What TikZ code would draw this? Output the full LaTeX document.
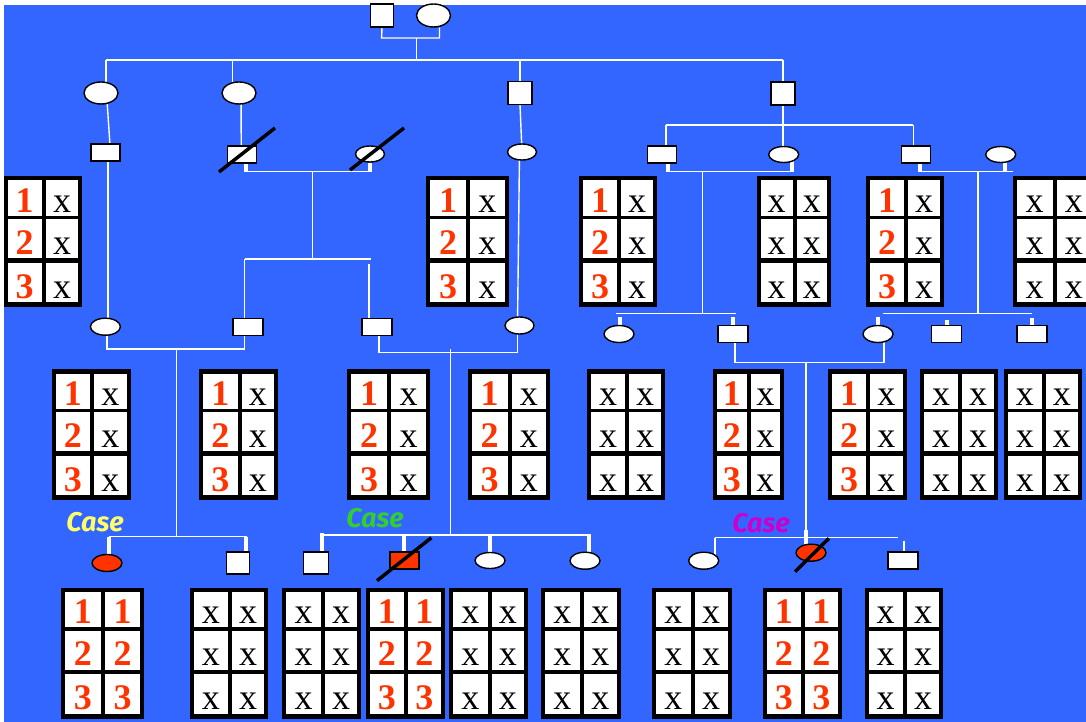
\documentclass[tikz,border=0pt]{standalone}
\usepackage{fontspec}
\setmainfont{Liberation Serif}
\newfontfamily\casefont{Fira Sans}
\usetikzlibrary{shapes.geometric,calc}
\definecolor{bgblue}{HTML}{3366FF}
\definecolor{numred}{HTML}{FF3300}
\definecolor{caseyel}{HTML}{FFFF66}
\definecolor{casegrn}{HTML}{33CC33}
\definecolor{casemag}{HTML}{CC00CC}
\pgfdeclarelayer{back}\pgfdeclarelayer{mid}\pgfsetlayers{back,mid,main}
\newcommand\ct[2]{\if n#1{\color{numred}\bfseries #2}\else x\fi}
\newcommand\gbox[6]{%
 \pgfmathsetmacro\gxl{#2}\pgfmathsetmacro\gxr{#3}\pgfmathsetmacro\gyt{#4}%
 \pgfmathsetmacro\gxm{(\gxl+\gxr)/2+1}%
 \pgfmathsetmacro\gxa{(\gxl+\gxm+2)/2}%
 \pgfmathsetmacro\gxc{(\gxm+\gxr-2)/2}%
 \fill[black] (\gxl,\gyt) rectangle (\gxr,\gyt+131);
 \foreach \ra/\rb in {4.5/39.5, 43/82, 86.5/126}{%
   \fill[white] (\gxl+4,\gyt+\ra) rectangle (\gxm-2,\gyt+\rb);
   \fill[white] (\gxm+2,\gyt+\ra) rectangle (\gxr-4,\gyt+\rb);}
 \node[gtx] (#1-l1) at (\gxa,\gyt+36) {\ct{#5}{1}};
 \node[gtx] (#1-l2) at (\gxa,\gyt+78) {\ct{#5}{2}};
 \node[gtx] (#1-l3) at (\gxa,\gyt+122) {\ct{#5}{3}};
 \node[gtx] (#1-r1) at (\gxc,\gyt+36) {\ct{#6}{1}};
 \node[gtx] (#1-r2) at (\gxc,\gyt+78) {\ct{#6}{2}};
 \node[gtx] (#1-r3) at (\gxc,\gyt+122) {\ct{#6}{3}};
}
\begin{document}
\begin{tikzpicture}[x=1pt,y=-1pt,
 sym/.style={draw=black, fill=white, line width=1.4pt, inner sep=0pt},
 sq/.style={sym, rectangle, minimum width=23pt, minimum height=23pt},
 rc/.style={sym, rectangle, minimum width=29pt, minimum height=17pt},
 el/.style={sym, ellipse, minimum width=30pt, minimum height=17pt},
 bel/.style={sym, ellipse, minimum width=34pt, minimum height=22pt},
 aff/.style={fill=numred},
 ln/.style={draw=white, line width=1.4pt},
 stub/.style={draw=white, line width=4pt},
 slash/.style={draw=black, line width=3.5pt},
 gtx/.style={anchor=base, inner sep=0pt, font=\fontsize{36}{36}\selectfont},
 casel/.style={font=\casefont\bfseries\itshape\fontsize{27}{27}\selectfont, inner sep=0pt}
]
\useasboundingbox (0,0) rectangle (1086,722);
\begin{pgfonlayer}{back}
 \fill[white] (0,0) rectangle (1086,722);
 \fill[bgblue] (3.5,5) rectangle (1086,722);
\end{pgfonlayer}

% ---------- grids ----------
\gbox{G1}{3.5}{82.4}{176}{n}{x}
\gbox{G2}{426}{508.6}{176}{n}{x}
\gbox{G3}{579}{657.3}{176}{n}{x}
\gbox{G4}{756.6}{831}{176}{x}{x}
\gbox{G5}{866}{944}{176}{n}{x}
\gbox{G6}{1012.5}{1095}{176}{x}{x}
\gbox{H1}{51.6}{130.5}{369}{n}{x}
\gbox{H2}{199}{278}{369}{n}{x}
\gbox{H3}{347}{429.7}{369}{n}{x}
\gbox{H4}{467.6}{550}{369}{n}{x}
\gbox{H5}{587}{665.3}{369}{x}{x}
\gbox{H6}{712.7}{783.7}{369}{n}{x}
\gbox{H7}{828}{906.6}{369}{n}{x}
\gbox{H8}{920}{998}{369}{x}{x}
\gbox{H9}{1003.8}{1081.8}{369}{x}{x}
\gbox{K1}{60.7}{143.8}{587.7}{n}{n}
\gbox{K2}{189.8}{268.3}{587.7}{x}{x}
\gbox{K3}{282.4}{361.3}{587.7}{x}{x}
\gbox{K4}{365.5}{444.8}{587.7}{n}{n}
\gbox{K5}{449}{528}{587.7}{x}{x}
\gbox{K6}{541}{620.8}{587.7}{x}{x}
\gbox{K7}{652}{731.5}{587.7}{x}{x}
\gbox{K8}{762.8}{841.5}{587.7}{n}{n}
\gbox{K9}{864.5}{943.2}{587.7}{x}{x}

% ---------- pedigree symbols ----------
\node[sq] (g0m) at (382,15.5) {};
\node[bel, minimum height=23pt] (g0f) at (433.5,15.5) {};
\node[bel] (c1) at (101,93) {};
\node[bel] (c2) at (239,93) {};
\node[sq, minimum width=24pt] (c3) at (520,93) {};
\node[sq, minimum width=24pt] (c4) at (783,93.5) {};
\node[rc] (s1) at (105.5,152.5) {};
\node[rc] (x2) at (242,154.5) {};
\node[el, minimum width=29pt, minimum height=16pt] (x3) at (370,154) {};
\node[el, minimum width=29pt, minimum height=16pt] (e2r) at (522,152) {};
\node[rc] (rA) at (662,154.5) {};
\node[el, minimum height=16pt] (eB) at (783.7,154.5) {};
\node[rc] (rC) at (915.7,154.5) {};
\node[el, minimum height=16pt] (eD) at (1000.7,154.5) {};
\node[el] (e31) at (105.4,326.7) {};
\node[rc, minimum width=30pt] (r32) at (248,326.7) {};
\node[rc, minimum width=30pt] (r33) at (377,326.7) {};
\node[el, minimum width=29pt] (e34) at (519.5,325.5) {};
\node[el] (e3a) at (619,334) {};
\node[rc, minimum width=30pt] (r3b) at (733,334) {};
\node[el] (e3c) at (878,334) {};
\node[rc, minimum width=30pt] (r3d) at (946.5,334) {};
\node[rc, minimum width=30pt] (r3e) at (1032,334) {};
\node[el, aff] (f1) at (107,563) {};
\node[sq, minimum height=22pt] (f2) at (237.7,563) {};
\node[sq, minimum width=25pt, minimum height=22pt] (f3) at (316,563) {};
\node[rc, aff] (f4) at (404.4,560.3) {};
\node[el, minimum height=16pt] (f5) at (490,560.5) {};
\node[el] (f6) at (585,560.7) {};
\node[el] (f7) at (703.7,560.7) {};
\node[el, aff] (f8) at (811,552.7) {};
\node[rc, minimum width=30pt] (f9) at (903,560.3) {};

% deceased slashes
\draw[slash] ($(x2)+(-23,17.5)$) -- ($(x2)+(33,-26.5)$);
\draw[slash] ($(x3)+(-20,16)$) -- ($(x3)+(34,-26)$);
\draw[slash] ($(f4)+(-27.4,20.4)$) -- ($(f4)+(27,-22.6)$);
\draw[slash] ($(f8)+(-16,19)$) -- ($(f8)+(18,-14.4)$);

% Case labels
\node[casel, text=caseyel] (case1) at (95,522) {Case};
\node[casel, text=casegrn] (case2) at (375,518) {Case};
\node[casel, text=casemag] (case3) at (761,523) {Case};

% ---------- connectors ----------
\begin{pgfonlayer}{mid}
 % generation 0
 \coordinate (m0l) at (381.6,38); \coordinate (m0r) at (439.5,38);
 \coordinate (m0d) at (416.7,60);
 \draw[ln] (g0m.south) -- (m0l) -- (m0r) -- (m0r |- g0f.south);
 \draw[ln] (m0d |- m0l) -- (m0d);
 \coordinate (sb0l) at (106,60); \coordinate (sb0r) at (783,60);
 \coordinate (k2) at (232.5,60);
 \draw[ln] (sb0l) -- (sb0r);
 \draw[ln] (sb0l) -- (sb0l |- c1);
 \draw[ln] (k2) -- (k2 |- c2);
 \draw[ln] (c3 |- sb0l) -- (c3);
 \draw[ln] (c4 |- sb0l) -- (c4);
 % generation 1 -> 2 (left)
 \draw[ln] ($(c1)+(5.5,0)$) -- ($(s1)+(5,0)$);
 \draw[ln] ($(c2)+(2,0)$) -- ($(x2)+(-0.7,0)$);
 \coordinate (m1l) at (245.5,171.7); \coordinate (m1r) at (370,171.7);
 \draw[stub] (m1l |- x2) -- (m1l);
 \draw[stub] (x3) -- (m1r);
 \draw[ln] (m1l) -- (m1r);
 \coordinate (d1) at (312.5,171.7); \coordinate (d1b) at (312.5,259);
 \draw[ln] (d1) -- (d1b);
 \coordinate (sb1l) at (244.5,259); \coordinate (sb1r) at (371,259);
 \coordinate (sb1g) at (369,264);
 \draw[ln] (sb1l) -- (sb1r);
 \draw[ln] (sb1l) -- (sb1l |- r32);
 \draw[ln, line width=2pt] (sb1g) -- (sb1g |- r33);
 \draw[ln] ($(s1)+(2.5,0)$) -- ($(e31)+(2.6,0)$);
 % generation 3 (left)
 \coordinate (m2l) at (107,349); \coordinate (m2r) at (244.5,349);
 \draw[ln] (m2l |- e31) -- (m2l) -- (m2r) -- (m2r |- r32);
 \coordinate (d2) at (176.4,349); \coordinate (d2b) at (176.4,536.7);
 \draw[ln] (d2) -- (d2b);
 \coordinate (sb2l) at (108.7,536.7); \coordinate (sb2r) at (247.3,536.7);
 \coordinate (k22) at (246,536.7);
 \draw[ln] (sb2l) -- (sb2r);
 \draw[stub] (sb2l) -- (sb2l |- f1);
 \draw[stub] (k22) -- (k22 |- f2);
 \coordinate (m3l) at (378.8,352.7); \coordinate (m3r) at (517.4,352.7);
 \draw[ln] (m3l |- r33) -- (m3l) -- (m3r) -- (m3r |- e34);
 \coordinate (d3) at (450.7,349); \coordinate (d3b) at (450.7,535);
 \draw[ln] (d3) -- (d3b);
 \coordinate (sb3l) at (322,535); \coordinate (sb3r) at (590.5,535);
 \draw[ln] (sb3l) -- (sb3r);
 \coordinate (k31) at (322,533); \coordinate (k32) at (404,535);
 \coordinate (k33) at (490,535); \coordinate (k34) at (588.7,535);
 \draw[stub] (k31) -- (k31 |- f3);
 \draw[stub] (k32) -- (k32 |- f4);
 \draw[stub] (k33) -- (k33 |- f5);
 \draw[stub] (k34) -- (k34 |- f6);
 % generation 1 -> 2 (right)
 \draw[ln] ($(c3)+(-0.5,0)$) -- (e2r);
 \draw[ln] ($(e2r)+(-2.5,0)$) -- ($(e34)+(-2,0)$);
 \coordinate (sb4) at (783,125); \coordinate (sb4l) at (665.8,125);
 \coordinate (sb4r) at (913.3,125);
 \draw[ln] (c4) -- (sb4);
 \draw[ln] (sb4l) -- (sb4r);
 \draw[ln] (sb4l) -- (sb4l |- rA);
 \draw[ln] (sb4) -- (sb4 |- eB);
 \draw[ln] (sb4r) -- (sb4r |- rC);
 \coordinate (m4l) at (667.6,171.7); \coordinate (m4r) at (792,171.7);
 \coordinate (m4e) at (794,171.7);
 \draw[stub] (m4l |- rA) -- (m4l);
 \draw[stub] (m4r |- eB) -- (m4r);
 \draw[ln] (m4l) -- (m4e);
 \coordinate (d4) at (702.7,171.7); \coordinate (d4b) at (702.7,313.3);
 \draw[ln] (d4) -- (d4b);
 \coordinate (sb5l) at (616,313.3); \coordinate (sb5r) at (735.7,313.3);
 \draw[ln] (sb5l) -- (sb5r);
 \coordinate (k51) at (619.7,317); \coordinate (k52) at (733,317);
 \draw[stub] (k51) -- (k51 |- e3a);
 \draw[stub] (k52) -- (k52 |- r3b);
 \coordinate (m5l) at (920,171.7); \coordinate (m5r) at (1005,171.7);
 \coordinate (m5e) at (1013,171.7);
 \draw[stub] (m5l |- rC) -- (m5l);
 \draw[stub] (m5r |- eD) -- (m5r);
 \draw[ln] (m5l) -- (m5e);
 \coordinate (d5) at (978,171.7); \coordinate (d5b) at (978,313.3);
 \draw[ln] (d5) -- (d5b);
 \coordinate (sb6l) at (883,313.3); \coordinate (sb6r) at (1032,313.3);
 \draw[ln] (sb6l) -- (sb6r);
 \coordinate (k61) at (877.7,316.7); \coordinate (k62) at (946.7,320);
 \coordinate (k63) at (1032,317.7);
 \draw[stub] (k61) -- (k61 |- e3c);
 \draw[stub] (k62) -- (k62 |- r3d);
 \draw[stub] (k63) -- (k63 |- r3e);
 % generation 3 (right)
 \coordinate (m6l) at (735,362.3); \coordinate (m6r) at (884,362.3);
 \draw[ln] (m6l |- r3b) -- (m6l) -- (m6r) -- (m6r |- e3c);
 \coordinate (d6) at (806,362.3); \coordinate (d6s) at (806,530);
 \draw[ln] (d6) -- (d6 |- f8);
 \draw[stub] (d6s) -- (d6s |- f8);
 \coordinate (sb7l) at (714.8,537.7); \coordinate (sb7r) at (897.6,537.7);
 \coordinate (k72) at (903.5,540.7);
 \draw[ln] (sb7l) -- (sb7r);
 \draw[ln, line width=2pt] (sb7l) -- (sb7l |- f7);
 \draw[ln, line width=2pt] (k72) -- (k72 |- f9);
\end{pgfonlayer}
\end{tikzpicture}
\end{document}
